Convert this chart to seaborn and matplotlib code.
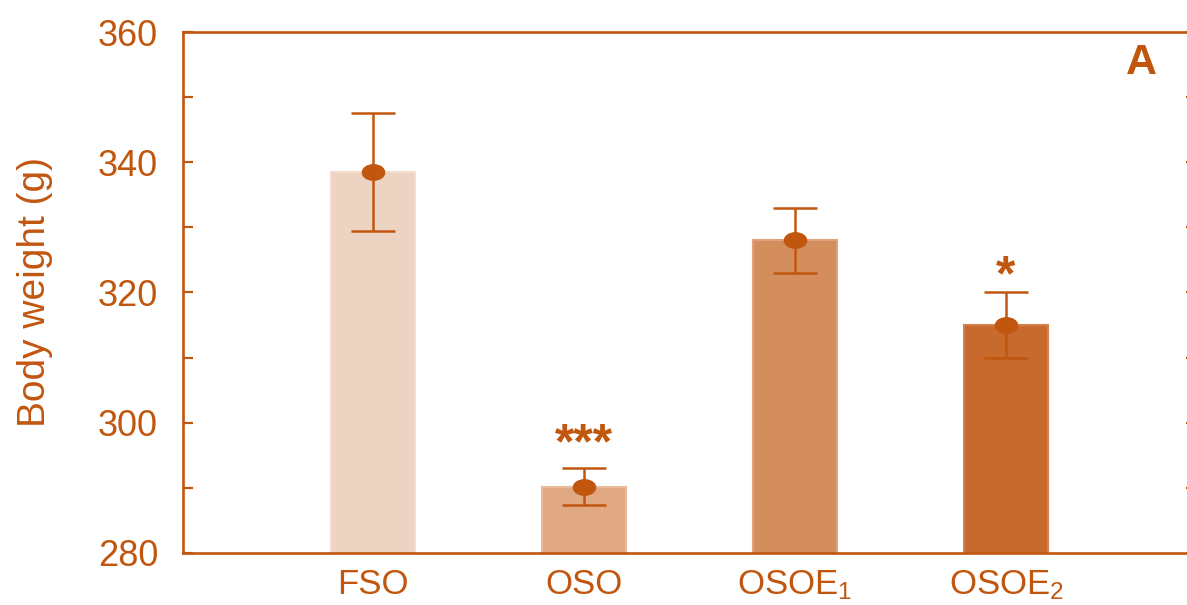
import numpy as np
import pandas as pd
import matplotlib
matplotlib.use("Agg")
import matplotlib.pyplot as plt
from matplotlib.path import Path
from matplotlib.transforms import Affine2D
import seaborn as sns

# Groups and body weight (mean ± SEM, g)
groups = ["FSO", "OSO", "OSOE1", "OSOE2"]
tick_labels = ["FSO", "OSO", r"OSOE$_1$", r"OSOE$_2$"]
weights = [338.5, 290.2, 328.0, 315.0]
sem = [9.0, 2.8, 5.0, 5.0]
signif = ["", "***", "", "*"]
signif_y = [None, 296.6, None, 322.4]

bar_colors = ["#EDD3C1", "#E0A984", "#D48D5D", "#C8692D"]
edge_colors = ["#F2DDCF", "#E8BA9B", "#DEA37C", "#D3814F"]
ink = "#C1560F"

sns.set_theme(style="white")
plt.rcParams["font.family"] = ["Liberation Sans", "DejaVu Sans"]
plt.rcParams["mathtext.fontset"] = "custom"
plt.rcParams["mathtext.rm"] = "Liberation Sans"
plt.rcParams["mathtext.it"] = "Liberation Sans"

fig = plt.figure(figsize=(11.87, 6.05), dpi=100)
ax = fig.add_axes([0.1542, 0.0860, 0.8534, 0.8611])

df = pd.DataFrame({"group": groups, "weight": weights})
sns.barplot(data=df, x="group", y="weight", hue="group", palette=bar_colors,
            saturation=1, legend=False, errorbar=None, width=0.40, ax=ax,
            zorder=2)
for patch, ec in zip(ax.patches, edge_colors):
    patch.set_edgecolor(ec)
    patch.set_linewidth(1.5)
    patch.set_alpha(1)

# Slightly wide oval marker for the means
oval = Path.unit_circle().transformed(Affine2D().scale(1.4, 1.0))
xpos = np.arange(len(groups))
ax.errorbar(xpos, weights, yerr=sem, fmt="none", ecolor=ink,
            elinewidth=1.8, capsize=15.5, capthick=1.8, zorder=3)
ax.plot(xpos, weights, linestyle="none", marker=oval, markersize=17,
        color=ink, markeredgewidth=0, zorder=4)

for x, s, y in zip(xpos, signif, signif_y):
    if s:
        ax.text(x, y, s, ha="center", va="center", fontsize=36,
                fontweight="bold", color=ink)

ax.text(0.946, 0.94, "A", transform=ax.transAxes, ha="center", va="center",
        fontsize=31, fontweight="bold", color=ink)

ax.set_xlim(-0.9, 3.9)
ax.set_ylim(280, 360)
ax.set_yticks([280, 300, 320, 340, 360])
ax.set_yticks(np.arange(280, 361, 10), minor=True)
ax.set_xticks(xpos)
ax.set_xticklabels(tick_labels)
ax.set_xlabel("")
ax.set_ylabel("Body weight (g)", fontsize=28, color=ink, labelpad=32)

for side in ["left", "top", "bottom"]:
    ax.spines[side].set_color(ink)
    ax.spines[side].set_linewidth(1.9)
ax.spines["right"].set_visible(False)

ax.tick_params(axis="y", which="both", direction="in", length=7.5, width=1.6,
               color=ink, left=True, right=True, labelcolor=ink,
               labelsize=26, pad=18)
ax.tick_params(axis="x", which="both", bottom=False, top=False,
               labelcolor=ink, labelsize=25, pad=5)

fig.savefig("out.png", dpi=100)
